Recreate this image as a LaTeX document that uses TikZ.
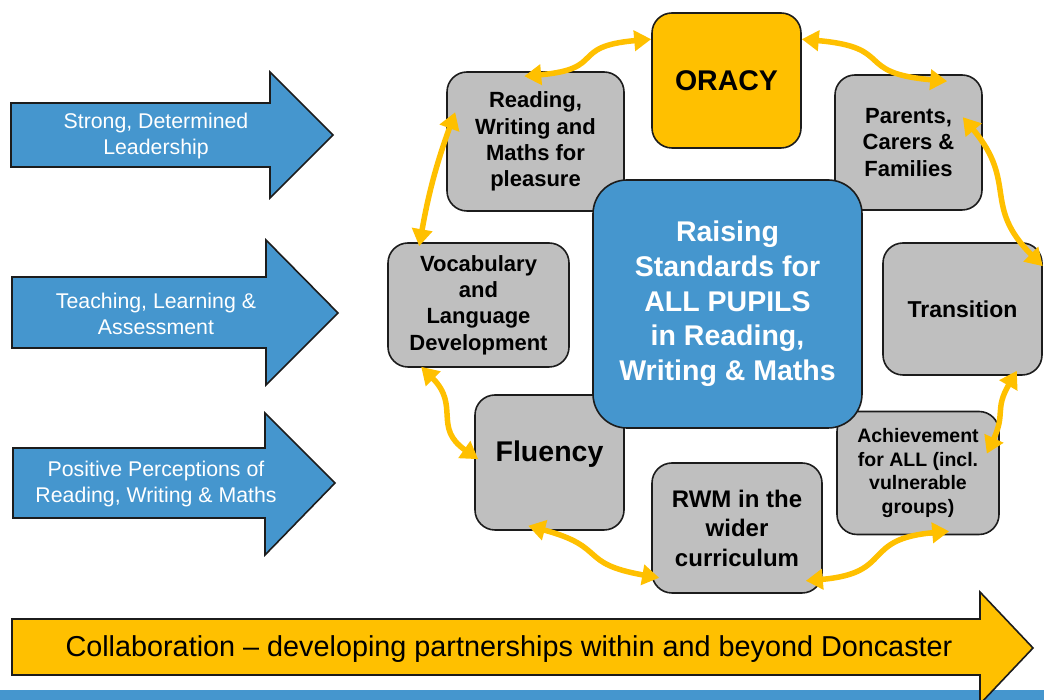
\documentclass[tikz,border=0pt]{standalone}
\usepackage{fontspec}
\setmainfont{Liberation Sans}
\usepackage{xcolor}
\usetikzlibrary{positioning,arrows.meta}

\definecolor{boxgrey}{HTML}{BFBFBF}
\definecolor{oracygold}{HTML}{FFC000}
\definecolor{raiseblue}{HTML}{4596CE}
\definecolor{edgedark}{HTML}{1C1C1C}

\begin{document}
\begin{tikzpicture}
[
x=1pt, y=1pt,
box-a/.style={rectangle, rounded corners=20pt, draw=edgedark, line width=1.6pt, fill=boxgrey,
              align=center, font=\bfseries\fontsize{22}{26.3}\selectfont},
box-o/.style={box-a, fill=oracygold, font=\bfseries\fontsize{28.5}{34}\selectfont},
box-c/.style={box-a, rounded corners=34pt, fill=raiseblue, text=white,
              font=\bfseries\fontsize{28.5}{34.7}\selectfont},
arrow-b/.style={draw=edgedark, line width=1.6pt, fill=raiseblue, line join=miter},
arrow-g/.style={arrow-b, fill=oracygold},
text-a/.style={align=center, text=white, font=\fontsize{21.3}{26}\selectfont},
link-a/.style={draw=oracygold, line width=5.5pt,
               arrows={Triangle[length=17pt,width=20pt]-Triangle[length=17pt,width=20pt]}}
]
\useasboundingbox (0,0) rectangle (1044,700);

% strip along the foot of the page
\fill [raiseblue] (0,0) rectangle (1044,10);

% the three drivers on the left
\draw [arrow-b] (11,533) -- (270,533) -- (270,502) -- (333,565) -- (270,628) -- (270,597) -- (11,597) -- cycle;
\draw [arrow-b] (12,352) -- (266,352) -- (266,315) -- (338,387) -- (266,460) -- (266,423) -- (12,423) -- cycle;
\draw [arrow-b] (13,182) -- (265,182) -- (265,145) -- (335,217) -- (265,287) -- (265,252) -- (13,252) -- cycle;
\node (lead-txt)  [text-a] at (156,564) {Strong, Determined\\Leadership};
\node (teach-txt) [text-a] at (156,386) {Teaching, Learning \&\\Assessment};
\node (perc-txt)  [text-a] at (156,216) {Positive Perceptions of\\Reading, Writing \& Maths};

% collaboration arrow
\draw [arrow-g] (12,25) -- (980,25) -- (980,-4) -- (1033,52) -- (980,108) -- (980,81) -- (12,81) -- cycle;
\node (collab-txt) [font=\fontsize{28.8}{34}\selectfont] at (509,51)
      {Collaboration -- developing partnerships within and beyond Doncaster};

% ring of themes
\node (box-pleasure)   [box-a, minimum width=177pt, minimum height=139pt] at (535.5,558.5) {Reading,\\Writing and\\Maths for\\pleasure};
\node (box-parents)    [box-a, minimum width=147pt, minimum height=135pt] at (908.5,557.5) {Parents,\\Carers \&\\Families};
\node (box-vocab)      [box-a, minimum width=181pt, minimum height=124pt] at (478.5,395)   {Vocabulary\\and\\Language\\Development};
\node (box-transition) [box-a, minimum width=159pt, minimum height=132pt, font=\bfseries\fontsize{23}{27}\selectfont]
                       at (962.5,391) {Transition};
\node (box-fluency)    [box-a, minimum width=149pt, minimum height=135pt, text depth=22pt,
                        font=\bfseries\fontsize{28.5}{34}\selectfont] at (549.5,237.5) {Fluency};
\node (box-achieve)    [box-a, minimum width=162pt, minimum height=123pt, font=\bfseries\fontsize{19.5}{23.5}\selectfont]
                       at (918,227) {Achievement\\for ALL (incl.\\vulnerable\\groups)};
\node (box-rwm)        [box-a, minimum width=170pt, minimum height=130pt, font=\bfseries\fontsize{24}{29.5}\selectfont]
                       at (737,172) {RWM in the\\wider\\curriculum};
\node (box-oracy)      [box-o, minimum width=149pt, minimum height=135pt] at (726.5,619.5) {ORACY};
\node (box-raise)      [box-c, minimum width=269pt, minimum height=248pt] at (727.5,396)
                       {Raising\\Standards for\\ALL PUPILS\\in Reading,\\Writing \& Maths};

% links round the ring
\draw [link-a] ([yshift=-27pt]box-oracy.north west) to[out=185, in=5, looseness=1.6]
               ([shift={(78pt,-5pt)}]box-pleasure.north west);
\draw [link-a] ([yshift=-27pt]box-oracy.north east) to[out=-5, in=175, looseness=1.6]
               ([shift={(113pt,-7pt)}]box-parents.north west);
\draw [link-a] ([shift={(9pt,-41pt)}]box-pleasure.north west) to[out=250, in=80]
               ([shift={(32pt,-4pt)}]box-vocab.north west);
\draw [link-a] ([shift={(34pt,1pt)}]box-vocab.south west) to[out=-45, in=145, looseness=1.3]
               ([shift={(4pt,-65pt)}]box-fluency.north west);
\draw [link-a] ([shift={(54pt,5pt)}]box-fluency.south west) to[out=-15, in=170, looseness=1.5]
               ([shift={(8pt,16pt)}]box-rwm.south west);
\draw [link-a] ([shift={(-17pt,13pt)}]box-rwm.south east) to[out=5, in=185, looseness=1.5]
               ([shift={(113pt,4pt)}]box-achieve.south west);
\draw [link-a] ([shift={(-13pt,-43pt)}]box-achieve.north east) to[out=65, in=240, looseness=1.3]
               ([shift={(-26pt,5pt)}]box-transition.south east);
\draw [link-a] ([shift={(-20pt,-43pt)}]box-parents.north east) to[out=-50, in=135, looseness=1.3]
               ([shift={(0pt,-24pt)}]box-transition.north east);
\end{tikzpicture}
\end{document}
